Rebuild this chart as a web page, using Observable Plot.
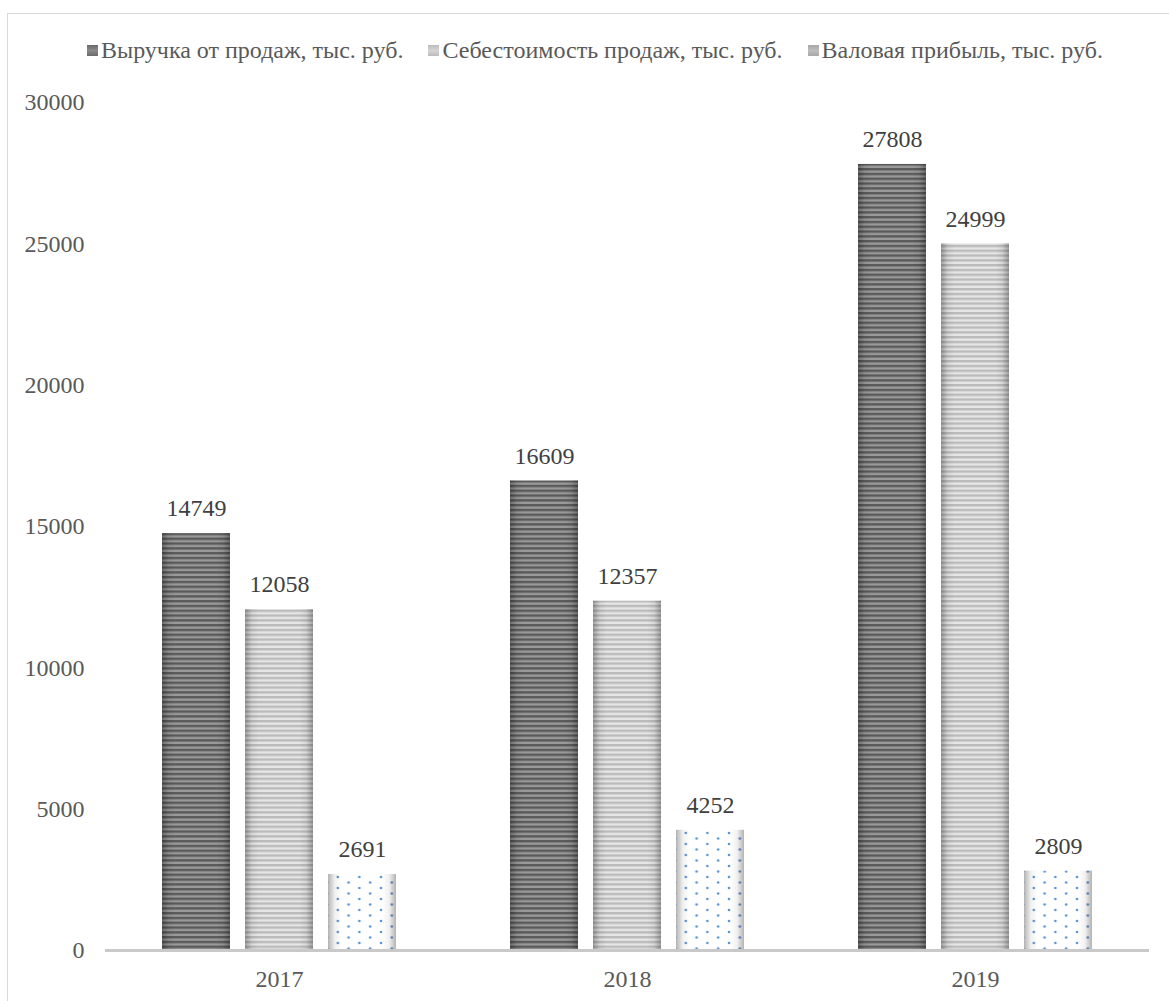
<!DOCTYPE html>
<html>
<head>
<meta charset="utf-8">
<script src="https://cdn.jsdelivr.net/npm/d3@7"></script>
<script src="https://cdn.jsdelivr.net/npm/@observablehq/plot@0.6"></script>
<style>
  body { margin: 0; background: #fff; }
  #wrap { position: relative; width: 1169px; height: 1001px; overflow: hidden; }
  #frame { position: absolute; left: 7px; top: 13px; width: 1300px; height: 1100px; border: 1px solid #d9d9d9; box-sizing: border-box; }
  #legend { position: absolute; top: 36px; left: 87px; height: 28px; display: flex; align-items: center; font-family: "Liberation Serif", "Times New Roman", serif; font-size: 24px; color: #595959; white-space: nowrap; }
  .item { display: flex; align-items: center; margin-right: 25px; }
  .sw { width: 11px; height: 11px; margin-right: 3px; }
  #chart { position: absolute; left: 0; top: 0; }
  #chart svg text { font-family: "Liberation Serif", "Times New Roman", serif; }
</style>
</head>
<body>
<div id="wrap">
  <div id="frame"></div>
  <div id="chart"></div>
  <div id="legend"></div>
</div>
<script>
const years = ["2017", "2018", "2019"];
const series = ["Выручка от продаж, тыс. руб.", "Себестоимость продаж, тыс. руб.", "Валовая прибыль, тыс. руб."];
const revenue = [14749, 16609, 27808];
const cost = [12058, 12357, 24999];
const gross = [2691, 4252, 2809];
const yTicks = [0, 5000, 10000, 15000, 20000, 25000, 30000];

const valuesBySeries = [revenue, cost, gross];
const data = years.flatMap((year, i) => series.map((s, j) => ({year, series: s, value: valuesBySeries[j][i]})));

const chart = Plot.plot({
  width: 1169,
  height: 1001,
  marginTop: 102,
  marginBottom: 51,
  marginLeft: 105,
  marginRight: 20,
  style: {fontFamily: "'Liberation Serif', 'Times New Roman', serif", fontSize: "24px", color: "#595959", background: "transparent"},
  fx: {domain: years, padding: 0, label: null, tickSize: 0, tickPadding: 19, axis: "bottom"},
  x: {domain: series, axis: null, paddingInner: 0.186, paddingOuter: 0.683},
  y: {domain: [0, 30000], ticks: yTicks, tickSize: 0, tickPadding: 21, label: null, tickFormat: d => String(d)},
  color: {type: "ordinal", domain: series, range: ["url(#p0)", "url(#p1)", "url(#p2)"]},
  marks: [
    Plot.barY(data, {fx: "year", x: "series", y: "value", fill: "series"}),
    Plot.barY(data, {fx: "year", x: "series", y: "value", fill: "url(#edge)"}),
    Plot.ruleY([0], {stroke: "#c9c9c9", strokeWidth: 3}),
    Plot.text(data, {fx: "year", x: "series", y: "value", text: d => String(d.value), dy: -25, fontSize: 24, fill: "#404040"})
  ]
});

const svg = d3.select(chart);
const defs = svg.insert("defs", ":first-child");
function stripes(id, c1, c2, period) {
  const p = defs.append("pattern").attr("id", id).attr("patternUnits", "userSpaceOnUse")
    .attr("width", 10).attr("height", period);
  p.append("rect").attr("width", 10).attr("height", period).attr("fill", c1);
  p.append("rect").attr("y", period / 2).attr("width", 10).attr("height", period / 2).attr("fill", c2);
}
stripes("p0", "#5a5a5a", "#999999", 4.8);
stripes("p1", "#bbbbbb", "#e6e6e6", 4.8);
const dp = defs.append("pattern").attr("id", "p2").attr("patternUnits", "userSpaceOnUse")
  .attr("width", 21.6).attr("height", 11);
dp.append("rect").attr("width", 21.6).attr("height", 11).attr("fill", "#ffffff");
dp.append("circle").attr("cx", 3).attr("cy", 2.5).attr("r", 1.3).attr("fill", "#5b93d3");
dp.append("circle").attr("cx", 13.8).attr("cy", 8).attr("r", 1.3).attr("fill", "#5b93d3");
const eg = defs.append("linearGradient").attr("id", "edge").attr("x1", 0).attr("x2", 1).attr("y1", 0).attr("y2", 0);
[[0, 0.3], [0.1, 0.06], [0.2, 0], [0.8, 0], [0.9, 0.06], [1, 0.3]].forEach(([o, a]) =>
  eg.append("stop").attr("offset", o).attr("stop-color", "#000").attr("stop-opacity", a));

document.getElementById("chart").appendChild(chart);

const swatches = [
  "linear-gradient(#6a6a6a, #8a8a8a, #6a6a6a)",
  "linear-gradient(#bcbcbc, #d4d4d4, #bcbcbc)",
  "linear-gradient(#a8a8a8, #bdbdbd, #a8a8a8)"
];
const legend = d3.select("#legend");
series.forEach((s, i) => {
  const it = legend.append("div").attr("class", "item");
  it.append("div").attr("class", "sw").style("background", swatches[i]);
  it.append("span").text(s);
});
</script>
</body>
</html>
